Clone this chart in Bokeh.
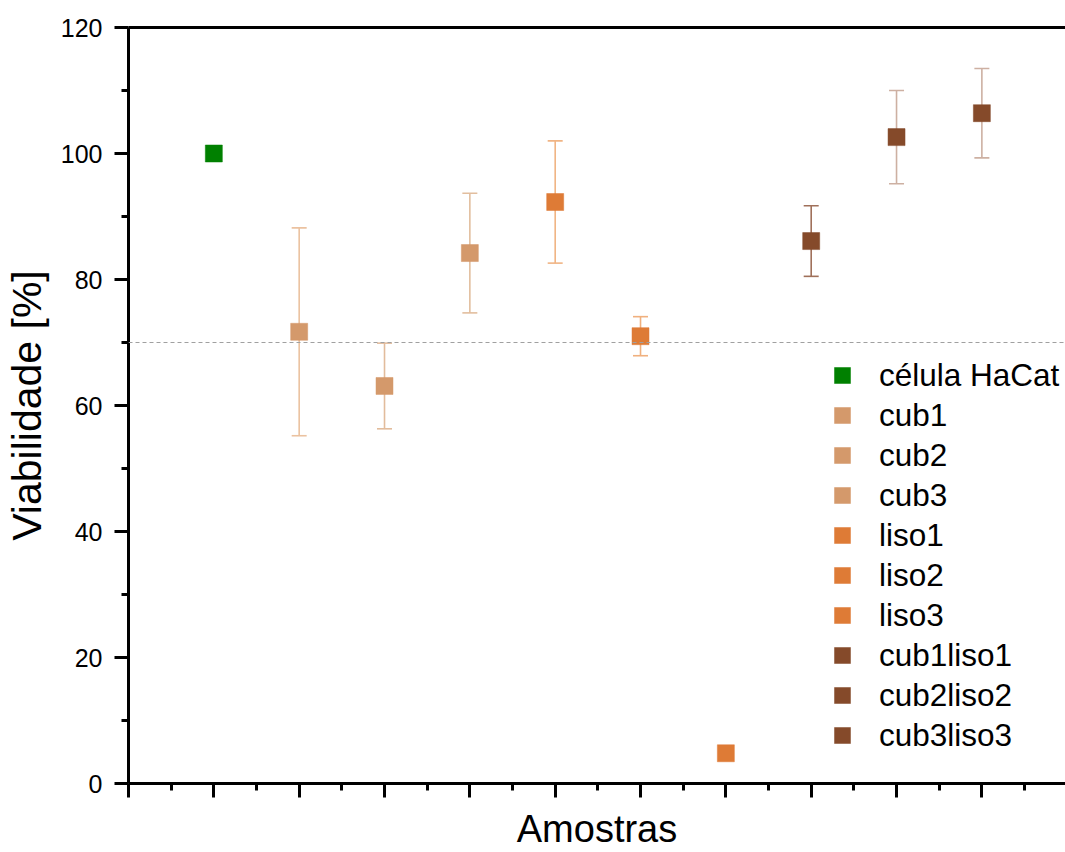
from bokeh.plotting import figure
from bokeh.models import (ColumnDataSource, Whisker, TeeHead, FixedTicker, Span,
                          Range1d, LinearAxis)
from bokeh.embed import file_html
from bokeh.resources import INLINE

# ---- data ----
samples = ["célula HaCat", "cub1", "cub2", "cub3", "liso1", "liso2", "liso3",
           "cub1liso1", "cub2liso2", "cub3liso3"]
positions = [1, 2, 3, 4, 5, 6, 7, 8, 9, 10]
viability = [100.0, 71.7, 63.1, 84.2, 92.3, 71.0, 4.8, 86.1, 102.6, 106.4]
std_error = [0.0, 16.5, 6.8, 9.5, 9.7, 3.1, 0.0, 5.6, 7.4, 7.1]
threshold = 70
y_ticks = [0, 20, 40, 60, 80, 100, 120]

marker_colors = ["#008000", "#D4996B", "#D4996B", "#D4996B", "#DE7B36", "#DE7B36",
                 "#DE7B36", "#854A2A", "#854A2A", "#854A2A"]
err_colors = ["#008000", "#EBC2A0", "#E2BC9C", "#E2BE9E", "#F0B484", "#F0B07E",
              "#F0B07E", "#A0705A", "#CDB0A2", "#CDB0A2"]

FONT = "Liberation Sans"

p = figure(width=1065, height=852, output_backend="svg", toolbar_location=None,
           x_range=Range1d(0, 10.98), y_range=Range1d(0, 120),
           min_border_left=128, min_border_right=0, min_border_top=27,
           min_border_bottom=69)
p.background_fill_color = "white"
p.border_fill_color = "white"
p.outline_line_color = None
p.xgrid.visible = False
p.ygrid.visible = False

# threshold line
p.add_layout(Span(location=threshold, dimension="width", line_color="#a0a0a0",
                  line_dash="4 3", line_width=1.2))

# error bars
for xv, yv, ev, ec in zip(positions, viability, std_error, err_colors):
    if ev <= 0:
        continue
    src = ColumnDataSource(dict(base=[xv], upper=[yv + ev], lower=[yv - ev]))
    w = Whisker(source=src, base="base", upper="upper", lower="lower",
                line_color=ec, line_width=1.6,
                upper_head=TeeHead(size=15, line_color=ec, line_width=1.6),
                lower_head=TeeHead(size=15, line_color=ec, line_width=1.6))
    p.add_layout(w)

# markers
for name, xv, yv, mc in zip(samples, positions, viability, marker_colors):
    src = ColumnDataSource(dict(x=[xv], y=[yv]))
    p.scatter("x", "y", source=src, marker="square", size=17, fill_color=mc,
              line_color=mc, line_width=0.5, legend_label=name)

# axes
xa = p.xaxis[0]
xa.ticker = FixedTicker(ticks=list(range(0, 12)),
                        minor_ticks=[i + 0.5 for i in range(0, 11)])
xa.major_label_overrides = {i: "" for i in range(0, 12)}
xa.major_label_text_font_size = "24px"
xa.major_label_standoff = 0
xa.axis_label = "Amostras"
xa.axis_label_text_font = FONT
xa.axis_label_text_font_size = "38px"
xa.axis_label_text_font_style = "normal"
xa.axis_label_text_color = "black"
xa.axis_label_standoff = 10

ya = p.yaxis[0]
ya.ticker = FixedTicker(ticks=y_ticks, minor_ticks=[10, 30, 50, 70, 90, 110])
ya.major_label_text_font = FONT
ya.major_label_text_font_size = "25px"
ya.major_label_text_color = "black"
ya.major_label_standoff = 12
ya.axis_label = "Viabilidade [%]"
ya.axis_label_text_font = FONT
ya.axis_label_text_font_size = "41px"
ya.axis_label_text_font_style = "normal"
ya.axis_label_text_color = "black"
ya.axis_label_standoff = 8

for ax in (xa, ya):
    ax.axis_line_width = 3
    ax.axis_line_color = "black"
    ax.major_tick_line_width = 3
    ax.minor_tick_line_width = 3
    ax.major_tick_line_color = "black"
    ax.minor_tick_line_color = "black"
    ax.major_tick_in = 0
    ax.major_tick_out = 14
    ax.minor_tick_in = 0
    ax.minor_tick_out = 7

# top frame line (thick) and right frame line (thin)
top_axis = LinearAxis(ticker=FixedTicker(ticks=[]), axis_line_width=3,
                      axis_line_color="black", major_tick_out=0, minor_tick_out=0,
                      major_label_standoff=0)
p.add_layout(top_axis, "above")
right_axis = LinearAxis(ticker=FixedTicker(ticks=[]), axis_line_width=1,
                        axis_line_color="#b0b0b0", major_tick_out=0,
                        minor_tick_out=0, major_label_standoff=0)
p.add_layout(right_axis, "right")

# legend
lg = p.legend[0]
lg.location = (693, 28)
lg.background_fill_alpha = 0
lg.border_line_alpha = 0
lg.padding = 0
lg.margin = 0
lg.spacing = 0
lg.glyph_width = 42
lg.glyph_height = 40
lg.label_height = 36
lg.label_standoff = 16
lg.label_text_font = FONT
lg.label_text_font_size = "31.5px"
lg.label_text_color = "black"

open("out.html", "w").write(file_html(p, INLINE))
